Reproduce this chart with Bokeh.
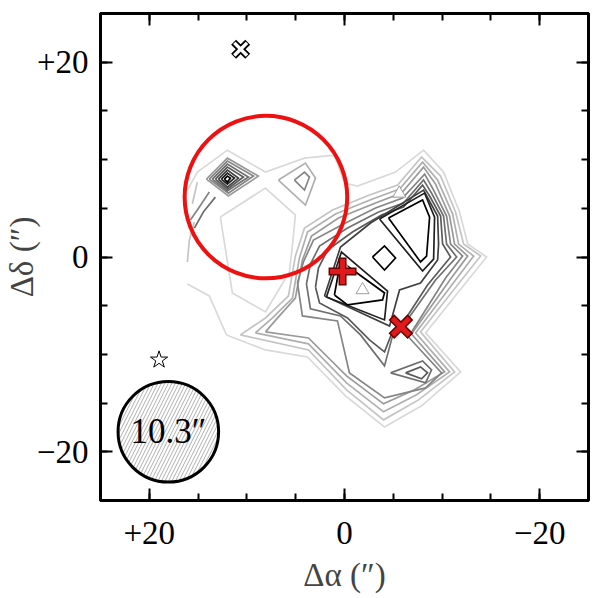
from bokeh.plotting import figure
from bokeh.models import Range1d, LinearAxis, FixedTicker
from bokeh.core.properties import value
from bokeh.embed import file_html
from bokeh.resources import INLINE

# ---------------- data (arcsec offsets) ----------------
# contour polylines: [x, y] vertices, with contour level (1 = lowest)
lvl1_open = [[16.10,-2.77],[13.85,-4.00],[12.10,-8.00],[8.10,-9.54],[3.79,-10.26],[-0.10,-14.26],
             [-4.10,-17.44],[-7.90,-15.28],[-11.90,-11.79],[-8.31,-7.79],[-12.41,-2.67],[-14.56,0.00],
             [-12.62,1.33],[-11.79,4.62],[-10.15,8.72],[-8.10,10.97],[-5.23,8.72],[-1.33,7.28],
             [0.00,7.59],[1.03,10.46],[4.10,10.15],[8.10,8.72],[12.00,10.97],[15.08,8.72],[16.10,6.87]]
lvl1_hole = [[12.72,4.10],[8.10,7.08],[5.03,4.31],[5.33,1.23],[5.64,-1.54],[8.10,-5.64],[11.49,-3.69],[12.72,4.10]]
lvl2_main = [[10.67,-8.00],[8.10,-6.26],[5.74,-4.00],[5.03,0.10],[4.10,2.97],[1.23,4.82],[-2.56,6.36],
             [-5.44,7.38],[-7.90,10.26],[-9.85,8.31],[-11.38,4.62],[-12.20,1.33],[-13.95,0.10],
             [-11.90,-2.46],[-7.79,-7.69],[-11.28,-11.79],[-7.59,-14.67],[-4.00,-16.72],[-0.21,-13.64],
             [3.69,-9.54],[10.67,-8.00]]
lvl3_main = [[9.13,-7.79],[7.38,-6.26],[5.33,-4.21],[4.62,-0.10],[3.79,2.56],[0.92,4.41],[-2.87,5.95],
             [-5.64,6.97],[-8.00,9.74],[-9.54,7.90],[-11.08,4.41],[-11.69,1.33],[-13.23,0.10],
             [-11.38,-2.36],[-7.28,-7.79],[-10.77,-11.79],[-7.38,-14.15],[-4.00,-15.90],[-0.21,-12.92],
             [3.69,-8.92],[9.13,-7.79]]
lvl4_main = [[8.10,-7.69],[6.67,-6.05],[5.03,-4.21],[4.31,-0.31],[3.38,2.15],[0.62,4.00],[-3.18,5.54],
             [-5.85,6.56],[-8.10,9.23],[-9.33,7.49],[-10.77,4.21],[-11.28,1.33],[-12.62,0.10],
             [-10.87,-2.26],[-6.87,-7.90],[-10.26,-11.79],[-7.18,-13.64],[-4.00,-15.08],[-0.21,-12.21],
             [3.69,-8.31],[8.10,-7.69]]
lvl5_main = [[4.82,-2.67],[4.31,-6.05],[0.72,-6.56],[-0.51,-11.90],[-4.10,-14.46],[-8.31,-13.44],
             [-9.95,-11.90],[-6.56,-8.21],[-10.36,-2.15],[-12.10,0.10],[-10.87,1.33],[-10.46,4.21],
             [-9.13,6.87],[-8.21,8.51],[-5.95,6.05],[-3.18,5.03],[0.10,3.38],[3.18,1.74],[4.21,-0.51],
             [4.82,-2.67]]
lvl6_main = [[3.90,-2.77],[3.49,-5.33],[0.41,-6.05],[-1.64,-8.00],[-4.10,-11.18],[-4.92,-8.10],
             [-5.85,-7.28],[-9.33,-2.36],[-11.49,0.00],[-10.46,1.33],[-10.15,4.21],[-8.92,6.56],
             [-8.10,7.90],[-6.05,5.54],[-3.49,4.62],[-0.31,2.97],[2.56,1.13],[3.49,-0.72],[3.90,-2.77]]
lvl6_south = [[-4.72,-11.90],[-8.00,-10.67],[-8.92,-11.59],[-8.31,-12.92],[-4.72,-11.90]]
lvl7_main = [[2.97,-3.08],[2.56,-4.72],[-0.31,-6.26],[-2.56,-8.51],[-4.10,-9.74],[-4.82,-7.90],
             [-6.05,-6.67],[-8.51,-2.87],[-10.87,0.00],[-10.05,1.33],[-9.85,4.21],[-8.72,6.26],
             [-8.00,7.38],[-6.05,5.13],[-3.79,4.31],[-0.82,2.56],[1.74,0.72],[2.67,-1.13],[2.97,-3.08]]
lvl7_south = [[-6.26,-11.90],[-7.79,-11.28],[-8.51,-11.90],[-7.90,-12.51],[-6.26,-11.90]]
lvl8_main = [[2.05,-4.00],[0.41,1.03],[-2.67,3.49],[-8.10,6.87],[-9.54,4.21],[-9.64,1.33],
             [-9.54,-0.31],[-7.79,-2.67],[-5.64,-3.38],[-4.62,-7.08],[2.05,-4.00]]
lvl9_west = [[1.85,-4.10],[0.31,0.51],[-4.41,-3.49],[-4.10,-6.46],[1.85,-4.10]]
lvl9_east = [[-3.59,3.90],[-8.21,6.56],[-9.23,4.10],[-9.13,-0.21],[-8.00,-1.44],[-3.59,3.90]]
lvl10_west = [[1.03,-3.90],[0.41,-0.41],[-4.10,-3.69],[-3.90,-4.41],[-0.31,-4.92],[1.03,-3.90]]
lvl10_east = [[-4.51,4.00],[-8.00,5.85],[-8.72,4.10],[-8.41,0.10],[-7.79,-0.51],[-4.51,4.00]]
lvl10_mid = [[-2.87,0.00],[-4.10,1.13],[-5.23,-0.10],[-4.10,-1.33],[-2.87,0.00]]
# north-west peak
nw4 = [[14.15,8.00],[12.00,10.15],[8.82,8.31],[11.90,6.26],[14.15,8.00]]
nw5 = [[13.85,8.00],[12.00,9.85],[9.33,8.31],[11.90,6.56],[13.85,8.00]]
nw6 = [[13.54,8.00],[12.00,9.54],[9.85,8.21],[12.00,6.77],[13.54,8.00]]
nw7 = [[13.23,8.00],[12.00,9.23],[10.36,8.21],[12.00,6.97],[13.23,8.00]]
nw8 = [[12.92,8.00],[12.00,8.92],[10.87,8.10],[12.00,7.18],[12.92,8.00]]
nw9 = [[12.62,8.00],[12.00,8.62],[11.28,8.10],[12.00,7.49],[12.62,8.00]]
nw10 = [[12.31,8.00],[12.00,8.31],[11.69,8.10],[12.00,7.69],[12.31,8.00]]
nw_edge5 = [[13.85,6.67],[14.87,5.13],[15.79,3.79]]
nw_edge6 = [[13.23,6.15],[14.46,4.62],[15.38,2.97]]
nw_edge2a = [[15.38,3.59],[15.90,1.74],[16.10,-0.51]]
nw_edge2b = [[15.08,7.69],[15.59,5.44]]
# small knot north of main emission
knot3 = [[6.77,7.90],[4.00,9.64],[2.97,8.10],[4.00,5.33],[6.77,7.90]]
knot5 = [[5.13,7.90],[4.10,8.72],[3.59,8.21],[4.10,6.87],[5.13,7.90]]

contours = [
    (lvl1_open, 1), (lvl1_hole, 1), (lvl2_main, 2), (lvl3_main, 3), (lvl4_main, 4),
    (lvl5_main, 5), (lvl6_main, 6), (lvl6_south, 6), (lvl7_main, 7), (lvl7_south, 7),
    (lvl8_main, 8), (lvl9_west, 9), (lvl9_east, 9), (lvl10_west, 10), (lvl10_east, 10),
    (lvl10_mid, 10), (nw4, 4), (nw5, 5), (nw6, 6), (nw7, 7), (nw8, 8), (nw9, 9), (nw10, 10),
    (nw_edge5, 5), (nw_edge6, 6), (nw_edge2a, 2), (nw_edge2b, 2), (knot3, 3), (knot5, 5),
]

# big red circle
ring_x, ring_y, ring_r = [8.05], [6.15], [8.33]
# beam
beam_x, beam_y, beam_r = [18.05], [-17.95], [5.15]
beam_label = ["10.3\u2033"]
# markers
star_x, star_y = [19.0], [-10.56]
xmark_x, xmark_y = [10.64], [21.33]
plus_x, plus_y = [0.2], [-1.5]
redx_x, redx_y = [-5.78], [-7.15]
tri_x, tri_y = [0.03, -5.61], [-1.13, 6.53]
tri2_x, tri2_y = [-1.85], [-3.38]

ticks_major = [-20, 0, 20]
ticks_minor = [-25, -20, -15, -10, -5, 0, 5, 10, 15, 20, 25]
tick_labels = {20: "+20", 0: "0", -20: "\u221220"}
blank_labels = {20: "", 0: "", -20: ""}

# ---------------- styles ----------------
greys = ["#d9d9d9", "#c4c4c4", "#afafaf", "#9a9a9a", "#858585",
         "#6f6f6f", "#5a5a5a", "#404040", "#202020", "#000000"]
FONT = "Liberation Serif"

p = figure(frame_width=488, frame_height=487,
           x_range=Range1d(25, -25), y_range=Range1d(-25, 25),
           output_backend="svg", toolbar_location=None,
           min_border_left=0, min_border_top=13, min_border_right=5, min_border_bottom=0)
p.background_fill_color = "white"
p.border_fill_color = "white"
p.xgrid.visible = False
p.ygrid.visible = False
p.outline_line_color = "black"
p.outline_line_width = 3

p.add_layout(LinearAxis(), "above")
p.add_layout(LinearAxis(), "right")

for ax in list(p.xaxis) + list(p.yaxis):
    ax.ticker = FixedTicker(ticks=ticks_major, minor_ticks=ticks_minor)
    ax.major_tick_in = 12
    ax.major_tick_out = 0
    ax.minor_tick_in = 7
    ax.minor_tick_out = 0
    ax.major_tick_line_width = 2
    ax.minor_tick_line_width = 2
    ax.axis_line_width = 3
    ax.major_label_overrides = tick_labels
    ax.major_label_text_font = FONT
    ax.major_label_text_font_size = "33px"
    ax.major_label_text_color = "black"
    ax.axis_label_text_font = FONT
    ax.axis_label_text_font_size = "33px"
    ax.axis_label_text_font_style = "normal"

for ax in (p.above[0], p.right[0]):
    ax.major_label_overrides = blank_labels
    ax.major_label_standoff = 0

p.below[0].axis_label = "\u0394\u03b1 (\u2033)"
p.left[0].axis_label = "\u0394\u03b4 (\u2033)"
p.below[0].major_label_standoff = 21
p.left[0].major_label_standoff = 12
p.below[0].axis_label_standoff = 10
p.left[0].axis_label_standoff = -6

# contours
for lvl in range(1, 11):
    xs = [[v[0] for v in c] for c, l in contours if l == lvl]
    ys = [[v[1] for v in c] for c, l in contours if l == lvl]
    if xs:
        p.multi_line(xs=xs, ys=ys, line_color=greys[lvl - 1], line_width=1.7,
                     line_join="miter")

# red circle
p.circle(x=ring_x, y=ring_y, radius=ring_r, fill_color=None, line_color="#ee1111", line_width=4)

# beam
p.circle(x=beam_x, y=beam_y, radius=beam_r, fill_color="white", line_color="black", line_width=3,
         hatch_pattern="/", hatch_color="#777777", hatch_weight=0.6, hatch_scale=7)
p.text(x=beam_x, y=beam_y, text=beam_label, text_align="center", text_baseline="middle",
       text_font=value(FONT), text_font_size="35px", text_color="black")

# markers
p.scatter(x=star_x, y=star_y, marker="star", size=18, fill_color="white", line_color="black", line_width=1)
p.scatter(x=xmark_x, y=xmark_y, marker="x", size=20, line_color="black", line_width=7)
p.scatter(x=xmark_x, y=xmark_y, marker="x", size=18, line_color="white", line_width=3.5)
p.scatter(x=tri2_x, y=tri2_y, marker="triangle", size=13, fill_color=None, line_color="#888888", line_width=0.8)
p.scatter(x=tri_x, y=tri_y, marker="triangle", size=13, fill_color="white", line_color="#999999", line_width=1)
p.scatter(x=plus_x, y=plus_y, marker="cross", size=28, line_color="#6b0000", line_width=8)
p.scatter(x=plus_x, y=plus_y, marker="cross", size=25, line_color="#e0191c", line_width=5)
p.scatter(x=redx_x, y=redx_y, marker="x", size=27, line_color="#6b0000", line_width=8)
p.scatter(x=redx_x, y=redx_y, marker="x", size=24, line_color="#e0191c", line_width=5)

open("out.html", "w").write(file_html(p, INLINE))
